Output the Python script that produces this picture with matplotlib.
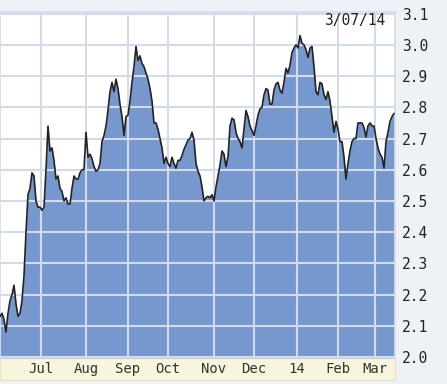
import numpy as np
import matplotlib
matplotlib.use('Agg')
import matplotlib.pyplot as plt
from matplotlib.patches import Rectangle

# 10-year yield, one reading per trading day, early Jun 2013 -> 3/07/14
yields = [
    2.13, 2.14, 2.12, 2.08, 2.14, 2.18, 2.20, 2.23, 2.17, 2.13,
    2.14, 2.18, 2.26, 2.40, 2.52, 2.54, 2.59, 2.58, 2.50, 2.48,
    2.48, 2.47, 2.48, 2.60, 2.74, 2.66, 2.67, 2.63, 2.57, 2.58,
    2.54, 2.53, 2.50, 2.51, 2.49, 2.49, 2.54, 2.58, 2.57, 2.57,
    2.59, 2.60, 2.60, 2.72, 2.64, 2.65, 2.635, 2.61, 2.595, 2.60,
    2.62, 2.69, 2.71, 2.74, 2.79, 2.85, 2.88, 2.85, 2.89, 2.86,
    2.81, 2.77, 2.71, 2.77, 2.775, 2.82, 2.88, 2.93, 2.995, 2.95,
    2.965, 2.94, 2.93, 2.91, 2.89, 2.86, 2.82, 2.75, 2.75, 2.73,
    2.70, 2.67, 2.62, 2.64, 2.62, 2.61, 2.64, 2.62, 2.605, 2.63,
    2.63, 2.645, 2.665, 2.68, 2.695, 2.70, 2.72, 2.695, 2.62, 2.595,
    2.58, 2.545, 2.50, 2.51, 2.515, 2.51, 2.52, 2.50, 2.545, 2.58,
    2.615, 2.66, 2.65, 2.61, 2.64, 2.74, 2.765, 2.76, 2.72, 2.70,
    2.69, 2.67, 2.73, 2.79, 2.77, 2.74, 2.725, 2.71, 2.74, 2.775,
    2.795, 2.80, 2.84, 2.86, 2.855, 2.81, 2.81, 2.855, 2.875, 2.88,
    2.855, 2.845, 2.88, 2.925, 2.91, 2.935, 2.975, 2.99, 3.00, 2.99,
    3.03, 3.005, 3.00, 2.985, 2.96, 2.99, 2.995, 2.93, 2.85, 2.84,
    2.88, 2.875, 2.84, 2.825, 2.85, 2.82, 2.77, 2.72, 2.755, 2.73,
    2.69, 2.69, 2.64, 2.57, 2.62, 2.66, 2.69, 2.70, 2.70, 2.75,
    2.75, 2.75, 2.735, 2.705, 2.74, 2.75, 2.74, 2.74, 2.70, 2.67,
    2.65, 2.64, 2.605, 2.69, 2.72, 2.755, 2.77, 2.78,
]
month_pos = [20.5, 43, 64, 84, 107, 127, 148.5, 169, 187.5]
month_labels = ['Jul', 'Aug', 'Sep', 'Oct', 'Nov', 'Dec', '14', 'Feb', 'Mar']
ytick_vals = [2.0, 2.1, 2.2, 2.3, 2.4, 2.5, 2.6, 2.7, 2.8, 2.9, 3.0, 3.1]
date_label = '3/07/14'

BG = '#eef2f7'
GRID = '#d3dbe9'
FILL = '#7698cf'
BAND = '#f7f5dc'
MONO = 'DejaVu Sans Mono'

x = np.arange(len(yields))
y = np.array(yields)

fig = plt.figure(figsize=(4.47, 3.84), dpi=100, facecolor=BG)

# label band under the plot (behind the axes so tick labels show)
fig.patches.append(Rectangle((0, 4/384), 395/447, 22/384, transform=fig.transFigure,
                             facecolor=BAND, edgecolor='#e3e3c8', lw=0.8, zorder=-5))

ax = fig.add_axes([0, 26/384, 395/447, 346.5/384])
ax.set_facecolor('white')

ax.fill_between(x, y, 1.9, color=FILL, lw=0, zorder=1)
ax.plot(x, y, color='#222222', lw=1.2, zorder=3)

ax.set_xlim(0, 197.5)
ax.set_ylim(2.0 - 1/312, 3.107)

ax.set_xticks(month_pos)
ax.set_xticklabels(month_labels, family=MONO, fontsize=10, color='#333333')
ax.set_yticks(ytick_vals)
ax.set_yticklabels(['%.1f' % v for v in ytick_vals], family=MONO, fontsize=10.5,
                   color='#222222')
ax.yaxis.tick_right()
ax.tick_params(axis='both', length=0)
ax.tick_params(axis='x', pad=3)
ax.tick_params(axis='y', pad=5)

ax.set_axisbelow(False)
ax.grid(True, color=GRID, lw=1.5)
for s in ax.spines.values():
    s.set_color(GRID)
    s.set_linewidth(1.2)

ax.text(0.975, 0.995, date_label, transform=ax.transAxes, ha='right', va='top',
        family=MONO, fontsize=10.5, color='#222222', zorder=4)

fig.savefig('out.png', dpi=100, facecolor=BG)
